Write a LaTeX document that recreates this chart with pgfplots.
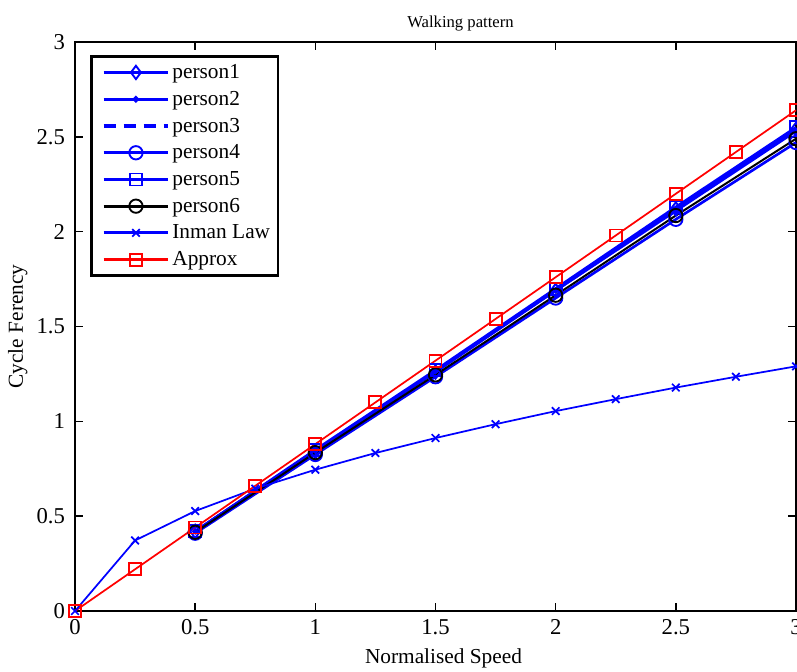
\documentclass[border=0pt]{standalone}
\usepackage{pgfplots}
\pgfplotsset{compat=1.18}
\usepackage{fontspec}
\setmainfont{Liberation Serif}
\usetikzlibrary{calc}

\definecolor{mblue}{RGB}{0,0,255}
\definecolor{mred}{RGB}{255,0,0}

\begin{document}
\begin{tikzpicture}
\begin{axis}[
  name=ax,
  scale only axis,
  width=540.75pt, height=426.75pt,
  xmin=0, xmax=3, ymin=0, ymax=3,
  xtick={0,0.5,...,3}, ytick={0,0.5,...,3},
  xticklabels={0,0.5,1,1.5,2,2.5,3},
  yticklabels={0,0.5,1,1.5,2,2.5,3},
  /pgf/number format/assume math mode=true,
  tick align=inside,
  major tick length=6pt,
  tick style={black, line width=1.2pt},
  axis line style={black, line width=2pt},
  every tick label/.style={font=\fontsize{17}{19}\selectfont},
  xticklabel style={yshift=-2.5pt},
  yticklabel style={xshift=-4pt},
  title={Walking pattern},
  title style={font=\fontsize{12.5}{14}\selectfont, xshift=18.75pt, yshift=-1pt},
  xlabel={Normalised Speed},
  ylabel={Cycle Ferency},
  xlabel style={font=\fontsize{16}{18}\selectfont, yshift=-4pt, xshift=6pt},
  ylabel style={font=\fontsize{16}{18}\selectfont, yshift=0pt},
  legend cell align=left,
  legend style={
    at={(0.0208,0.977)}, anchor=north west,
    draw=black, line width=2pt,
    font=\fontsize{16}{18}\selectfont,
    row sep=4pt, inner xsep=4pt, inner ysep=4pt,
    nodes={inner sep=2pt},
  },
  legend image code/.code={
    \path (0cm,0cm);
    \draw[line width=2.3pt, mark repeat=2, mark phase=2] plot coordinates {(0.15cm,0cm) (1.0cm,0cm) (1.85cm,0cm)};
  },
  clip=false,
]
% measured subjects
\addplot[mblue, line width=2pt, mark=diamond, mark size=5pt, mark options={solid, line width=1.4pt}]
  coordinates {(0.5,0.42) (1,0.84) (1.5,1.26) (2,1.69) (2.5,2.12) (3,2.54)};
\addlegendentry{person1}
\addplot[mblue, line width=2pt, mark=*, mark size=1.2pt]
  coordinates {(0.5,0.42) (1,0.845) (1.5,1.265) (2,1.69) (2.5,2.11) (3,2.53)};
\addlegendentry{person2}
\addplot[mblue, line width=2pt, dashed, dash pattern=on 9pt off 6pt]
  coordinates {(0.5,0.42) (1,0.845) (1.5,1.265) (2,1.695) (2.5,2.115) (3,2.535)};
\addlegendentry{person3}
\addplot[mblue, line width=2pt, mark=o, mark size=5pt, mark options={solid, line width=1.4pt}]
  coordinates {(0.5,0.41) (1,0.825) (1.5,1.235) (2,1.65) (2.5,2.065) (3,2.47)};
\addlegendentry{person4}
\addplot[mblue, line width=2pt, mark=square, mark size=4.5pt, mark options={solid, line width=1.4pt}]
  coordinates {(0.5,0.42) (1,0.85) (1.5,1.27) (2,1.70) (2.5,2.13) (3,2.55)};
\addlegendentry{person5}
\addplot[black, line width=1.5pt, mark=o, mark size=5pt, mark options={solid, line width=1.4pt}]
  coordinates {(0.5,0.415) (1,0.835) (1.5,1.245) (2,1.665) (2.5,2.085) (3,2.49)};
\addlegendentry{person6}
% model curves
\addplot[mblue, line width=1.3pt, mark=x, mark size=4pt, mark options={solid, line width=1.3pt}]
  coordinates {(0,0) (0.25,0.372) (0.5,0.527) (0.75,0.645) (1,0.745) (1.25,0.833)
    (1.5,0.912) (1.75,0.985) (2,1.054) (2.25,1.117) (2.5,1.178) (2.75,1.235) (3,1.290)};
\addlegendentry{Inman Law}
\addplot[mred, line width=1.3pt, mark=square, mark size=4.5pt, mark options={solid, line width=1.4pt}]
  coordinates {(0,0) (0.25,0.22) (0.5,0.44) (0.75,0.66) (1,0.88) (1.25,1.10)
    (1.5,1.32) (1.75,1.54) (2,1.76) (2.25,1.98) (2.5,2.20) (2.75,2.42) (3,2.64)};
\addlegendentry{Approx}
\end{axis}
\pgfresetboundingbox
\path[use as bounding box] ($(ax.south west)+(-56.25pt,-45pt)$) rectangle ($(ax.north east)+(0.75pt,31.5pt)$);
\end{tikzpicture}
\end{document}
